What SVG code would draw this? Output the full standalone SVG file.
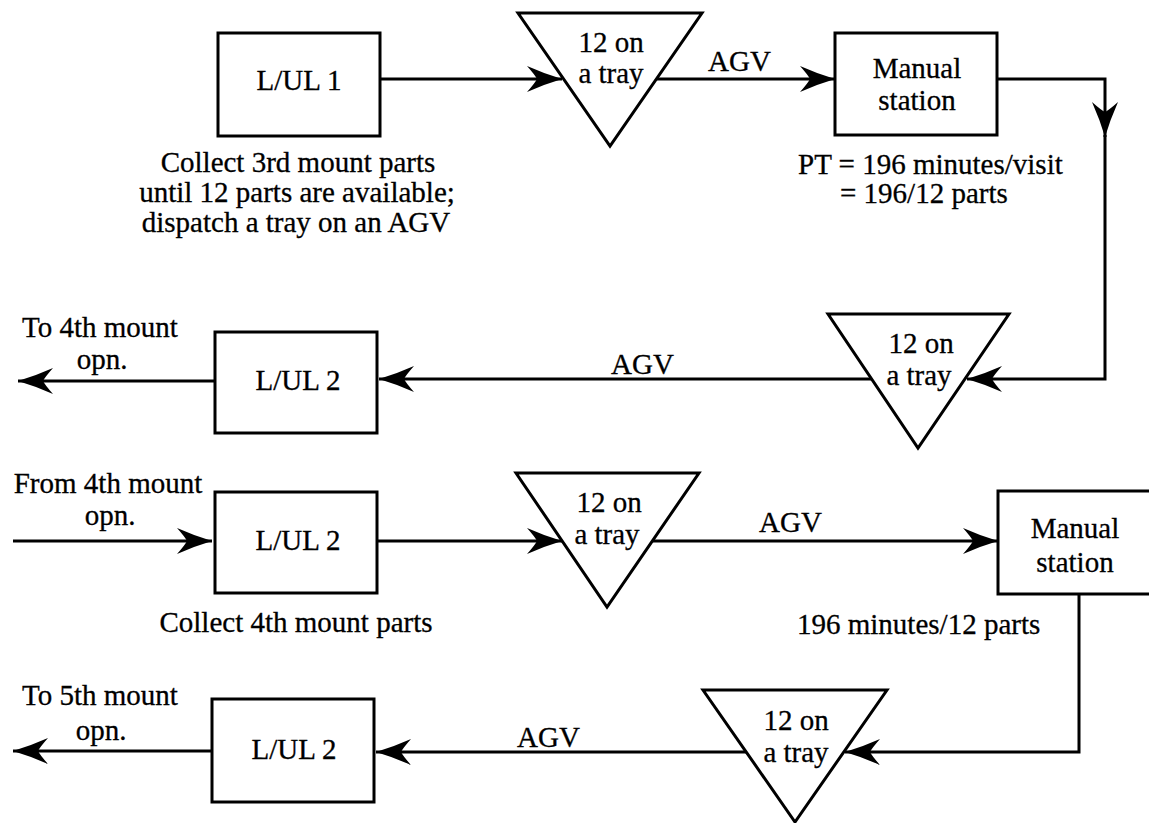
<svg xmlns="http://www.w3.org/2000/svg" width="1149" height="823" viewBox="0 0 1149 823">
<defs>
<style>
.box{fill:#fff;stroke:#000;stroke-width:3}
.tri{fill:#fff;stroke:#000;stroke-width:3;stroke-linejoin:miter}
.ln{fill:none;stroke:#000;stroke-width:3}
text{font-family:'Liberation Serif','Times New Roman','DejaVu Serif',serif;font-size:29px;fill:#000;stroke:#000;stroke-width:0.3}
.c{text-anchor:middle}
</style>
<marker id="ah" markerUnits="userSpaceOnUse" markerWidth="40" markerHeight="30" viewBox="-38 -15 40 30" refX="0" refY="0" orient="auto">
<path d="M0,0 Q-17,-5 -35,-13 Q-27,-4 -25,0 Q-27,4 -35,13 Q-17,5 0,0 Z" fill="#000"/>
</marker>
</defs>
<rect width="1149" height="823" fill="#fff"/>
<g id="connectors">
<path class="ln" d="M380,79 H562" marker-end="url(#ah)"/>
<path class="ln" d="M656,79 H835" marker-end="url(#ah)"/>
<path class="ln" d="M997,79 H1105 V137" marker-end="url(#ah)"/>
<path class="ln" d="M1105,135 V379 H967" marker-end="url(#ah)"/>
<path class="ln" d="M872,379 H379" marker-end="url(#ah)"/>
<path class="ln" d="M215,381 H18" marker-end="url(#ah)"/>
<path class="ln" d="M13,541 H212" marker-end="url(#ah)"/>
<path class="ln" d="M377,541 H562" marker-end="url(#ah)"/>
<path class="ln" d="M652,541 H998" marker-end="url(#ah)"/>
<path class="ln" d="M1079,594 V752 H845" marker-end="url(#ah)"/>
<path class="ln" d="M746,752 H376" marker-end="url(#ah)"/>
<path class="ln" d="M212,751 H13" marker-end="url(#ah)"/>
</g>
<g id="lul1">
<rect class="box" x="218" y="33" width="162" height="103"/>
<text class="c" x="299" y="90" font-family="Liberation Serif, serif">L/UL 1</text>
<text class="c" x="298" y="172">Collect 3rd mount parts</text>
<text class="c" x="297" y="202">until 12 parts are available;</text>
<text class="c" x="296" y="232">dispatch a tray on an AGV</text>
</g>
<g id="tray1">
<polygon class="tri" points="518,13 702,13 610,146"/>
<text class="c" x="611" y="52">12 on</text>
<text class="c" x="611" y="83">a tray</text>
</g>
<text x="708" y="71">AGV</text>
<g id="manual1">
<rect class="box" x="835" y="33" width="162" height="102"/>
<text class="c" x="917" y="78">Manual</text>
<text class="c" x="917" y="110">station</text>
<text x="798" y="174">PT = 196 minutes/visit</text>
<text x="840" y="203">= 196/12 parts</text>
</g>
<g id="tray2">
<polygon class="tri" points="828,314 1009,314 918,448"/>
<text class="c" x="921" y="353">12 on</text>
<text class="c" x="919" y="385">a tray</text>
</g>
<text x="611" y="374">AGV</text>
<g id="lul2a">
<rect class="box" x="215" y="332" width="162" height="101"/>
<text class="c" x="298" y="390">L/UL 2</text>
</g>
<text class="c" x="100" y="337">To 4th mount</text>
<text class="c" x="102" y="369">opn.</text>
<text class="c" x="108" y="493">From 4th mount</text>
<text class="c" x="110" y="525">opn.</text>
<g id="lul2b">
<rect class="box" x="215" y="492" width="162" height="101"/>
<text class="c" x="298" y="550">L/UL 2</text>
<text class="c" x="296" y="632">Collect 4th mount parts</text>
</g>
<g id="tray3">
<polygon class="tri" points="516,473 699,473 607,607"/>
<text class="c" x="609" y="512">12 on</text>
<text class="c" x="607" y="544">a tray</text>
</g>
<text x="759" y="532">AGV</text>
<g id="manual2">
<rect class="box" x="998" y="491" width="158" height="103"/>
<text class="c" x="1075" y="538">Manual</text>
<text class="c" x="1075" y="572">station</text>
<text x="797" y="634">196 minutes/12 parts</text>
</g>
<g id="tray4">
<polygon class="tri" points="703,690 887,690 795,822"/>
<text class="c" x="796" y="730">12 on</text>
<text class="c" x="796" y="762">a tray</text>
</g>
<text x="517" y="747">AGV</text>
<g id="lul2c">
<rect class="box" x="212" y="699" width="162" height="103"/>
<text class="c" x="294" y="759">L/UL 2</text>
</g>
<text class="c" x="100" y="705">To 5th mount</text>
<text class="c" x="101" y="740">opn.</text>
</svg>
